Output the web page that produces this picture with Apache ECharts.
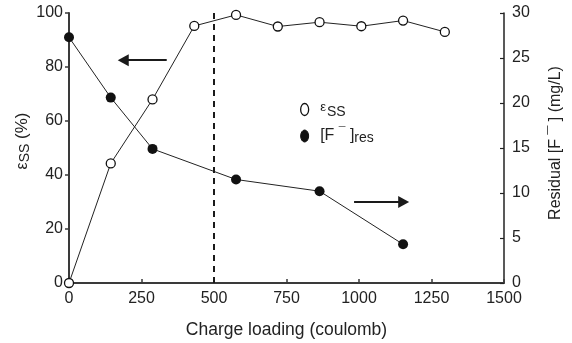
<!DOCTYPE html>
<html>
<head>
<meta charset="utf-8">
<script src="https://cdn.jsdelivr.net/npm/echarts@6/dist/echarts.min.js"></script>
<style>
  html, body { margin: 0; padding: 0; background: #fff; }
  #main { width: 572px; height: 343px; }
</style>
</head>
<body>
<div id="main"></div>
<script>
// charge loading (coulomb)
var chargeEps = [0, 144, 288, 432, 576, 720, 864, 1008, 1152, 1296];
var epsSS = [0, 44.3, 68.0, 95.2, 99.3, 95.0, 96.6, 95.1, 97.2, 93.0];
var chargeF = [0, 144, 288, 576, 864, 1152];
var fRes = [27.3, 20.6, 14.9, 11.5, 10.2, 4.3];

var chart = echarts.init(document.getElementById('main'));
var font = 'Liberation Sans, Arial, sans-serif';
var axisCol = '#3a3a3a';
var txt = '#222';

function pairs(xs, ys) {
    return xs.map(function (x, i) { return [x, ys[i]]; });
}

var option = {
    animation: false,
    grid: { left: 69, right: 68, top: 13, bottom: 60, containLabel: false, outerBoundsMode: 'none' },
    legend: {
        orient: 'vertical',
        left: 295,
        top: 96,
        itemWidth: 9,
        itemHeight: 12,
        itemGap: 8,
        data: [
            { name: 'eps', icon: 'path://M0,6A4,6 0 1,0 8,6A4,6 0 1,0 0,6Z',
              itemStyle: { color: '#fff', borderColor: '#111', borderWidth: 1.3 } },
            { name: 'F', icon: 'path://M0,6A4,6 0 1,0 8,6A4,6 0 1,0 0,6Z',
              itemStyle: { color: '#111', borderColor: '#111', borderWidth: 1 } }
        ],
        formatter: function (name) {
            if (name === 'eps') return '{g|}{e|ε}{s|SS}';
            return '{g|}{n|[F }{u|¯}{n| ]}{s|res}';
        },
        textStyle: {
            fontFamily: font,
            color: txt,
            rich: {
                g: { width: 6 },
                e: { fontSize: 13, fontFamily: font, color: txt, padding: [0, 1, 4, 0] },
                n: { fontSize: 16, fontFamily: font, color: txt },
                u: { fontSize: 12, fontFamily: font, color: txt, padding: [0, 0, 6, 0] },
                s: { fontSize: 14, fontFamily: font, color: txt, padding: [5, 0, 0, 0] }
            }
        }
    },
    xAxis: {
        type: 'value',
        min: 0,
        max: 1500,
        interval: 250,
        name: 'Charge loading (coulomb)',
        nameLocation: 'middle',
        nameGap: 38,
        nameTextStyle: { fontFamily: font, fontSize: 17.5, color: txt },
        axisLine: { lineStyle: { color: axisCol, width: 2 } },
        axisTick: { inside: true, length: 4, lineStyle: { color: axisCol, width: 1.5 } },
        axisLabel: { fontFamily: font, fontSize: 16, color: txt, margin: 8,
            formatter: function (v) { return String(v); } },
        splitLine: { show: false }
    },
    yAxis: [{
        type: 'value',
        min: 0,
        max: 100,
        interval: 20,
        name: '{e|ε}{s|SS}{n| (%)}',
        nameLocation: 'middle',
        nameRotate: 90,
        nameGap: 37,
        nameMoveOverlap: false,
        nameTextStyle: {
            fontFamily: font,
            padding: [0, 0, 0, 14],
            rich: {
                e: { fontSize: 16, fontFamily: font, color: txt },
                s: { fontSize: 14, fontFamily: font, color: txt, padding: [5, 0, 0, 0] },
                n: { fontSize: 17, fontFamily: font, color: txt }
            }
        },
        axisLine: { show: true, lineStyle: { color: axisCol, width: 2 } },
        axisTick: { show: true, length: 4, lineStyle: { color: axisCol, width: 1.5 } },
        axisLabel: { fontFamily: font, fontSize: 16, color: txt, margin: 6 },
        splitLine: { show: false }
    }, {
        type: 'value',
        min: 0,
        max: 30,
        interval: 5,
        position: 'right',
        name: 'Residual [F ¯ ] (mg/L)',
        nameLocation: 'middle',
        nameRotate: 90,
        nameGap: 44,
        nameMoveOverlap: false,
        nameTextStyle: { fontFamily: font, fontSize: 16, color: txt, padding: [0, 0, 0, 10] },
        axisLine: { show: true, lineStyle: { color: '#222', width: 1.5 } },
        axisTick: { show: true, inside: true, length: 4, lineStyle: { color: '#222', width: 1.2 } },
        axisLabel: { fontFamily: font, fontSize: 16, color: txt, margin: 8 },
        splitLine: { show: false }
    }],
    series: [{
        name: 'eps',
        type: 'line',
        yAxisIndex: 0,
        data: pairs(chargeEps, epsSS),
        symbol: 'circle',
        symbolSize: 9,
        showAllSymbol: true,
        lineStyle: { color: '#222', width: 1 },
        itemStyle: { color: '#fff', borderColor: '#111', borderWidth: 1.3 },
        z: 3,
        markLine: {
            silent: true,
            animation: false,
            label: { show: false },
            lineStyle: { color: '#1a1a1a', width: 2, type: 'solid' },
            data: [
                [{ coord: [500, 0], symbol: 'none', lineStyle: { type: [6, 5], width: 2 } },
                 { coord: [500, 100], symbol: 'none' }],
                [{ coord: [337, 82.5], symbol: 'none' },
                 { coord: [187, 82.5], symbol: 'triangle', symbolSize: [12, 11] }]
            ]
        }
    }, {
        name: 'F',
        type: 'line',
        yAxisIndex: 1,
        data: pairs(chargeF, fRes),
        symbol: 'circle',
        symbolSize: 10,
        lineStyle: { color: '#222', width: 1 },
        itemStyle: { color: '#111' },
        z: 4,
        markLine: {
            silent: true,
            animation: false,
            label: { show: false },
            lineStyle: { color: '#1a1a1a', width: 2, type: 'solid' },
            data: [
                [{ coord: [983, 9.0], symbol: 'none' },
                 { coord: [1154, 9.0], symbol: 'triangle', symbolSize: [12, 11] }]
            ]
        }
    }]
};

chart.setOption(option);
</script>
</body>
</html>
